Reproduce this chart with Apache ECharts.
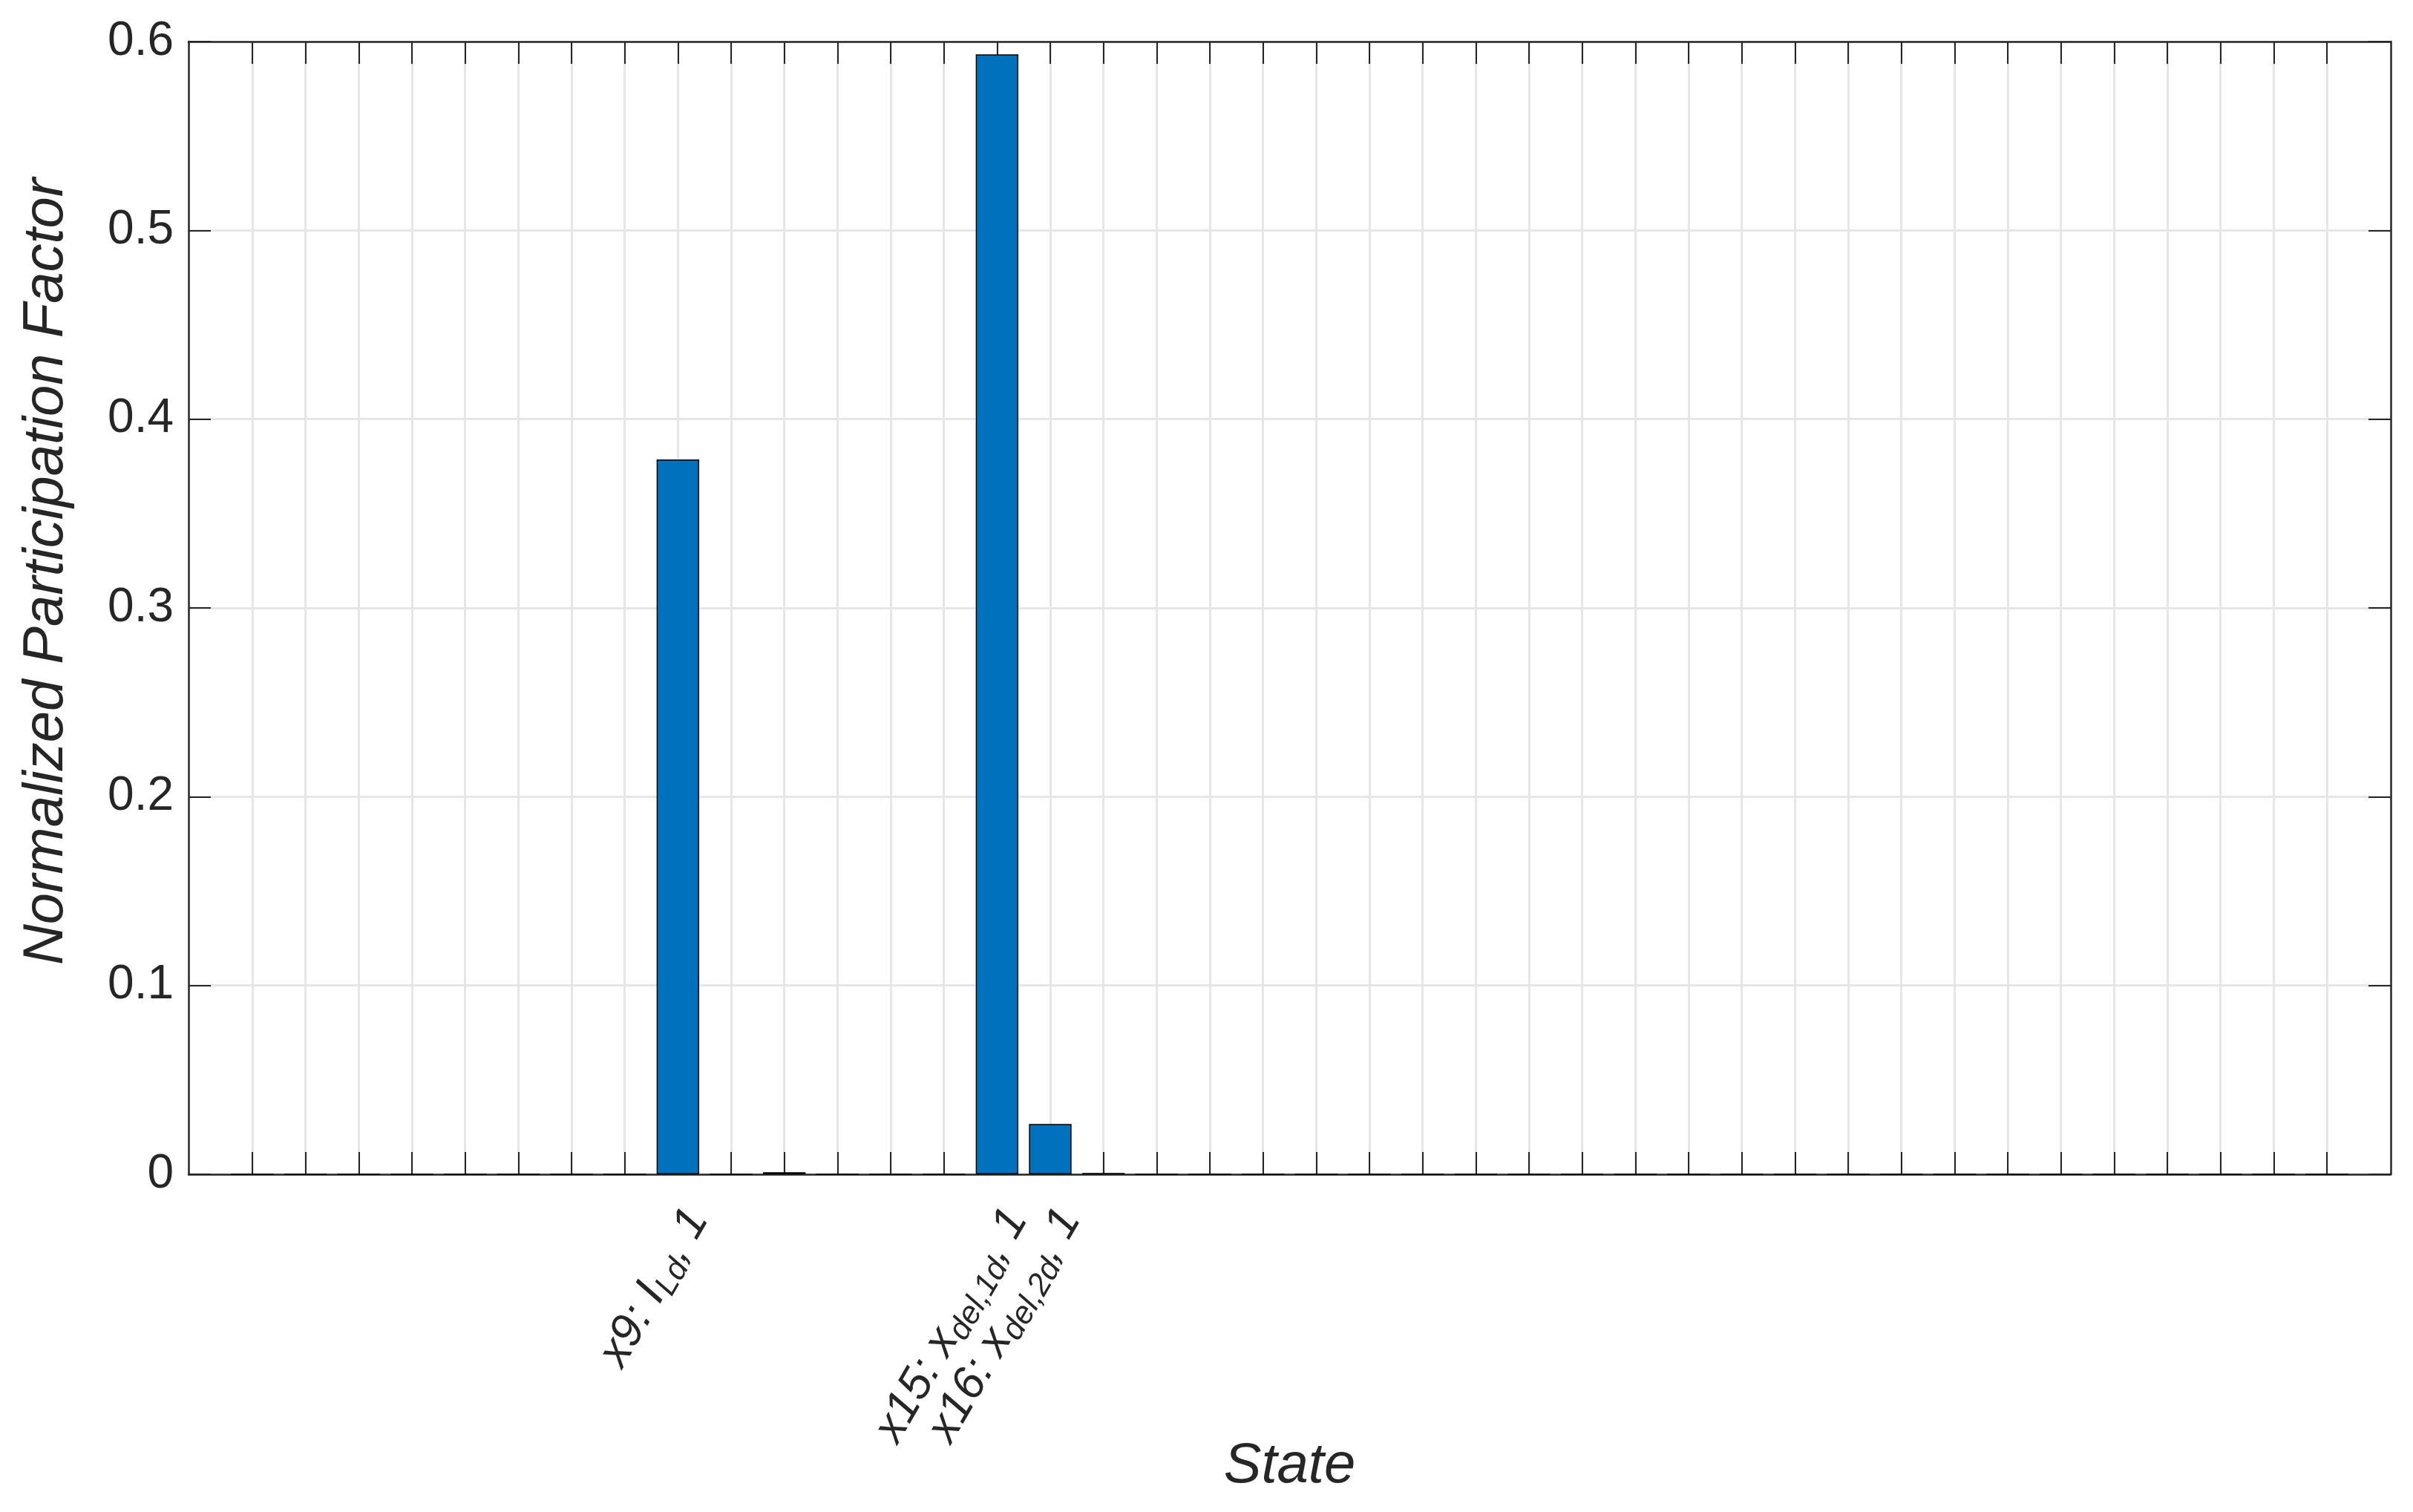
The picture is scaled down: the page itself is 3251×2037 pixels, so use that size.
<!DOCTYPE html>
<html>
<head>
<meta charset="utf-8">
<script src="https://cdn.jsdelivr.net/npm/echarts@6/dist/echarts.min.js"></script>
<style>
html,body{margin:0;padding:0;background:#fff;}
#chart{width:3251px;height:2037px;}
</style>
</head>
<body>
<div id="chart"></div>
<script>
// State indices 1..40
const statePositions = [1,2,3,4,5,6,7,8,9,10,11,12,13,14,15,16,17,18,19,20,21,22,23,24,25,26,27,28,29,30,31,32,33,34,35,36,37,38,39,40];
// Normalized participation factor per state
const participation = [0,0,0,0,0,0,0,0,0.3786,0,0.0011,0,0,0,0.5932,0.0266,0.0007,0,0,0,0,0,0,0,0,0,0,0,0,0,0,0,0,0,0,0,0,0,0,0];
// Labelled states
const labelPositions = [9, 15, 16];
const labelMain = ['x9: I', 'x15: x', 'x16: x'];
const labelSub = ['Ld', 'del,1d', 'del,2d'];
const labelTail = [', 1', ', 1', ', 1'];
const yTicks = [0, 0.1, 0.2, 0.3, 0.4, 0.5, 0.6];

const FONT = 'Liberation Sans, Arial, Helvetica, sans-serif';
const TXT = '#262626';
const AX = '#262626';
const GRIDC = '#e6e6e6';

const barData = statePositions.map((p, i) => [p, participation[i]]);
// unlabelled first/last states keep the labelled ones from being dropped as "min/max" overlaps
const labelValues = [statePositions[0]].concat(labelPositions, [statePositions[statePositions.length - 1]]);

const chart = echarts.init(document.getElementById('chart'), null, {renderer: 'canvas'});
chart.setOption({
  backgroundColor: '#ffffff',
  animation: false,
  grid: {left: 254, right: 30, top: 56, bottom: 455, containLabel: false, outerBoundsMode: 'none'},
  xAxis: [{
    type: 'value', position: 'bottom', min: -0.2, max: 41.2,
    name: 'State', nameLocation: 'middle', nameGap: 356, nameMoveOverlap: false,
    nameTextStyle: {fontFamily: FONT, fontSize: 76, fontStyle: 'italic', color: TXT},
    axisLine: {show: true, onZero: false, lineStyle: {color: AX, width: 2.5}},
    axisTick: {show: true, inside: true, length: 30, customValues: statePositions, lineStyle: {color: AX, width: 2}},
    splitLine: {show: true, lineStyle: {color: GRIDC, width: 3}},
    axisLabel: {
      show: true, customValues: labelValues, rotate: 60, margin: 36, hideOverlap: false,
      align: 'right', verticalAlign: 'top',
      formatter: function (v) {
        const i = labelPositions.indexOf(Math.round(v));
        if (i < 0) return '';
        return '{n|' + labelMain[i] + '}{s|' + labelSub[i] + '}{n|' + labelTail[i] + '}';
      },
      rich: {
        n: {fontFamily: FONT, fontSize: 62, fontStyle: 'italic', color: TXT, lineHeight: 70, verticalAlign: 'top'},
        s: {fontFamily: FONT, fontSize: 43, fontStyle: 'italic', color: TXT, lineHeight: 43, padding: [24, 0, 0, 0], verticalAlign: 'top'}
      }
    }
  }, {
    type: 'value', position: 'top', min: -0.2, max: 41.2,
    axisLine: {show: true, onZero: false, lineStyle: {color: AX, width: 2.5}},
    axisTick: {show: true, inside: true, length: 30, customValues: statePositions, lineStyle: {color: AX, width: 2}},
    axisLabel: {show: false},
    splitLine: {show: false}
  }],
  yAxis: [{
    type: 'value', position: 'left', min: 0, max: 0.6, interval: 0.1,
    name: 'Normalized Participation Factor', nameLocation: 'middle', nameGap: 153, nameMoveOverlap: false,
    nameTextStyle: {fontFamily: FONT, fontSize: 76, fontStyle: 'italic', color: TXT, padding: [0, 0, 0, 98]},
    axisLine: {show: true, onZero: false, lineStyle: {color: AX, width: 2.5}},
    axisTick: {show: true, inside: true, length: 30, lineStyle: {color: AX, width: 2}},
    splitLine: {show: true, lineStyle: {color: GRIDC, width: 3}},
    axisLabel: {show: true, margin: 20, fontFamily: FONT, fontSize: 64, color: TXT,
      showMinLabel: true, showMaxLabel: true,
      formatter: function (v) { return String(Math.round(v * 10) / 10); }}
  }, {
    type: 'value', position: 'right', min: 0, max: 0.6, interval: 0.1,
    axisLine: {show: true, onZero: false, lineStyle: {color: AX, width: 2.5}},
    axisTick: {show: true, inside: true, length: 30, lineStyle: {color: AX, width: 2}},
    axisLabel: {show: false},
    splitLine: {show: false}
  }],
  series: [{
    type: 'bar', xAxisIndex: 0, yAxisIndex: 0,
    data: barData, barWidth: '80%',
    itemStyle: {color: '#0072BD', borderColor: '#000000', borderWidth: 1.5},
    z: 3
  }]
});
</script>
</body>
</html>
